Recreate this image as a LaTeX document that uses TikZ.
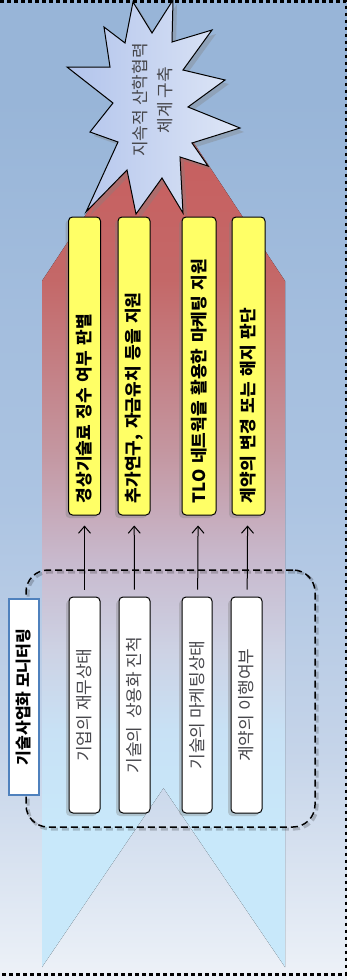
\documentclass[tikz,border=0pt]{standalone}
\usepackage{fontspec}
\setmainfont{Noto Sans CJK KR}
\usetikzlibrary{shapes.geometric, arrows.meta, positioning, shadows}
\definecolor{boxyellow}{RGB}{255, 255, 102}
\definecolor{monblue}{RGB}{79, 129, 189}
\definecolor{textgray}{RGB}{70, 70, 75}
\definecolor{ar1}{RGB}{200, 232, 250}
\definecolor{ar2}{RGB}{200, 225, 245}
\definecolor{ar3}{RGB}{205, 210, 228}
\definecolor{ar4}{RGB}{200, 185, 205}
\definecolor{ar5}{RGB}{196, 150, 160}
\definecolor{ar6}{RGB}{196, 104, 104}
\definecolor{ar7}{RGB}{200, 92, 92}
\definecolor{bg1}{RGB}{238, 242, 248}
\definecolor{bg2}{RGB}{232, 238, 246}
\definecolor{bg3}{RGB}{197, 212, 233}
\definecolor{bg4}{RGB}{172, 196, 226}
\definecolor{bg5}{RGB}{152, 181, 216}
\definecolor{starl}{RGB}{178, 196, 236}
\definecolor{starr}{RGB}{222, 230, 246}
\pgfdeclareverticalshading{bgshade}{100bp}{color(0bp)=(bg1); color(25bp)=(bg1); color(26.5bp)=(bg2);
  color(36.7bp)=(bg3); color(49.5bp)=(bg4); color(70bp)=(bg5); color(100bp)=(bg5)}
\pgfdeclareverticalshading{arrowshade}{100bp}{color(0bp)=(ar1); color(33bp)=(ar1); color(38.6bp)=(ar2);
  color(43.2bp)=(ar3); color(48.4bp)=(ar4); color(54.7bp)=(ar5); color(64.5bp)=(ar6); color(75bp)=(ar7); color(100bp)=(ar7)}

\begin{document}
\begin{tikzpicture}[x=1pt, y=-1pt, >={Straight Barb[length=7pt, width=12pt]},
    goalbox/.style={rectangle, rounded corners=4pt, draw, line width=1pt, fill=boxyellow,
                rotate=90, text width=274pt, inner xsep=12pt, align=left, minimum height=32pt,
                font=\bfseries\fontsize{17}{20}\selectfont,
                drop shadow={shadow xshift=-3pt, shadow yshift=-3pt, opacity=0.35}},
    statebox/.style={rectangle, rounded corners=4pt, draw, line width=1pt, fill=white,
                rotate=90, minimum width=216pt, minimum height=31pt, text=textgray,
                font=\fontsize{17}{20}\selectfont,
                drop shadow={shadow xshift=-3pt, shadow yshift=-3pt, opacity=0.35}},
    monbox/.style={rectangle, draw=monblue, line width=2.5pt, fill=white, rotate=90,
                minimum width=196pt, minimum height=30pt, font=\bfseries\fontsize{16}{19}\selectfont}]

    \useasboundingbox (0,0) rectangle (347,980);
    \fill[shading=bgshade] (0,0) rectangle (347,980);
    \draw[line width=2.5pt, dash pattern=on 3.5pt off 3.5pt] (0,1.25) -- (345.75,1.25) -- (345.75,974.5) -- (0,974.5);

    \fill[shading=arrowshade] (42,281) -- (163.5,97) -- (285,281) -- (285,967) -- (163.5,788) -- (42,967) -- cycle;

    \draw[line width=1pt, left color=starl, right color=starr,
          drop shadow={shadow xshift=4pt, shadow yshift=-4pt, opacity=0.35}]
        (133,2) -- (152,33) -- (173,0) -- (172,42) -- (212,30) -- (183,70) -- (225,80) -- (188,107)
        -- (240,128) -- (192,143) -- (208,166) -- (180,157) -- (183,213) -- (162,178) -- (136,214)
        -- (127,170) -- (86,212) -- (118,142) -- (90,132) -- (113,103) -- (67,67) -- (110,67)
        -- (104,27) -- (125,43) -- cycle;
    \node[rotate=90, align=center, text=textgray, font=\fontsize{17}{25}\selectfont] (goal) at (153,100) {지속적 산학협력\\체계 구축};

    \node[draw, line width=1.5pt, dash pattern=on 7pt off 4pt, rounded corners=22pt,
          minimum width=289pt, minimum height=257pt,
          drop shadow={shadow xshift=2pt, shadow yshift=-2pt, opacity=0.2, fill=none, draw=black, line width=3pt}] (group) at (170.5,698.5) {};

    \node[goalbox] (royalty) at (84.5,366) {경상기술료 징수 여부 판별};
    \node[goalbox] (fund) at (134,366) {추가연구, 자금유치 등을 지원};
    \node[goalbox, minimum height=34pt] (market) at (199,366) {TLO 네트웍을 활용한 마케팅 지원};
    \node[goalbox, minimum height=33pt] (contract) at (248.5,366) {계약의 변경 또는 해지 판단};

    \node[statebox] (finance) at (84.5,705) {기업의 재무상태};
    \node[statebox] (progress) at (134.5,705) {기술의 \ 상용화 진척};
    \node[statebox, minimum height=30pt] (mstate) at (197,705) {기술의 마케팅상태};
    \node[statebox] (perform) at (246.5,705) {계약의 이행여부};

    \node[monbox] (monitor) at (24,697) {기술사업화 모니터링};

    \draw[->, line width=1pt, shorten <=7pt, shorten >=10pt] (finance) -- (royalty);
    \draw[->, line width=1pt, shorten <=7pt, shorten >=10pt] (progress) -- (fund);
    \draw[->, line width=1pt, shorten <=7pt, shorten >=10pt] (mstate) -- (market);
    \draw[->, line width=1pt, shorten <=7pt, shorten >=10pt] (perform) -- (contract);
\end{tikzpicture}
\end{document}
